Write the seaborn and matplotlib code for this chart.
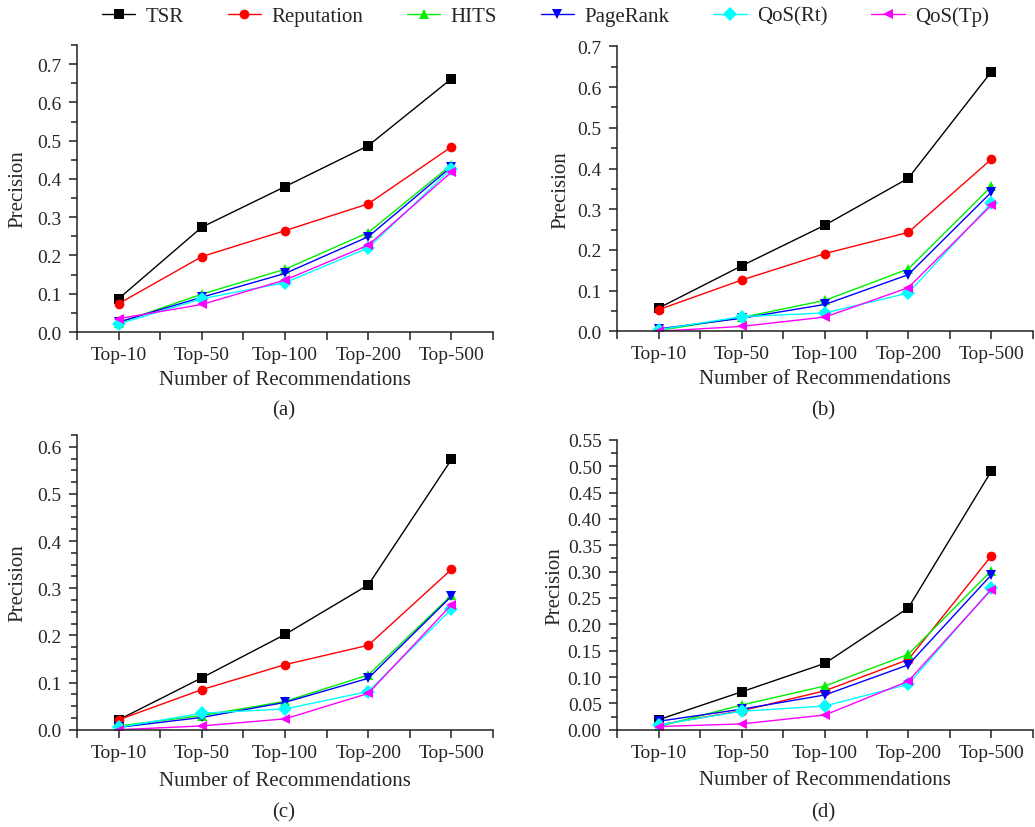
import numpy as np
import pandas as pd
import matplotlib
matplotlib.use("Agg")
import matplotlib.pyplot as plt
from matplotlib.ticker import MultipleLocator
import seaborn as sns

categories = ["Top-10", "Top-50", "Top-100", "Top-200", "Top-500"]
methods = ["TSR", "Reputation", "HITS", "PageRank", "QoS(Rt)", "QoS(Tp)"]

# panel (a)
a_tsr = [0.087, 0.274, 0.380, 0.487, 0.662]
a_rep = [0.074, 0.197, 0.265, 0.335, 0.484]
a_hits = [0.024, 0.099, 0.164, 0.260, 0.437]
a_pr = [0.026, 0.091, 0.153, 0.249, 0.432]
a_rt = [0.021, 0.087, 0.129, 0.220, 0.427]
a_tp = [0.035, 0.072, 0.136, 0.227, 0.418]

# panel (b)
b_tsr = [0.057, 0.161, 0.261, 0.376, 0.638]
b_rep = [0.053, 0.126, 0.191, 0.243, 0.423]
b_hits = [0.002, 0.034, 0.076, 0.153, 0.356]
b_pr = [0.006, 0.032, 0.066, 0.139, 0.342]
b_rt = [0.004, 0.036, 0.045, 0.094, 0.315]
b_tp = [0.000, 0.012, 0.035, 0.107, 0.310]

# panel (c)
c_tsr = [0.021, 0.110, 0.202, 0.307, 0.573]
c_rep = [0.021, 0.085, 0.138, 0.179, 0.340]
c_hits = [0.008, 0.030, 0.060, 0.116, 0.285]
c_pr = [0.005, 0.026, 0.058, 0.109, 0.283]
c_rt = [0.005, 0.035, 0.044, 0.081, 0.256]
c_tp = [0.000, 0.008, 0.023, 0.077, 0.265]

# panel (d)
d_tsr = [0.019, 0.072, 0.126, 0.231, 0.491]
d_rep = [0.009, 0.036, 0.074, 0.133, 0.330]
d_hits = [0.006, 0.047, 0.083, 0.143, 0.302]
d_pr = [0.016, 0.039, 0.066, 0.123, 0.294]
d_rt = [0.009, 0.035, 0.045, 0.086, 0.268]
d_tp = [0.006, 0.011, 0.028, 0.092, 0.266]

panels = [
    ("(a)", [a_tsr, a_rep, a_hits, a_pr, a_rt, a_tp]),
    ("(b)", [b_tsr, b_rep, b_hits, b_pr, b_rt, b_tp]),
    ("(c)", [c_tsr, c_rep, c_hits, c_pr, c_rt, c_tp]),
    ("(d)", [d_tsr, d_rep, d_hits, d_pr, d_rt, d_tp]),
]

colors = {"TSR": "#000000", "Reputation": "#ff0000", "HITS": "#00ee00",
          "PageRank": "#0000ff", "QoS(Rt)": "#00ffff", "QoS(Tp)": "#ff00ff"}
marks = {"TSR": "s", "Reputation": "o", "HITS": "^",
         "PageRank": "v", "QoS(Rt)": "D", "QoS(Tp)": "<"}

sns.set_style("ticks")
plt.rcParams["font.family"] = ["Liberation Serif", "DejaVu Serif"]

fig = plt.figure(figsize=(10.35, 8.28), dpi=100)

# axes boxes in figure fraction, plus y limits and tick steps
boxes = [
    [0.0744, 0.5978, 0.402, 0.3466],
    [0.5961, 0.5987, 0.402, 0.3440],
    [0.0744, 0.1175, 0.402, 0.3560],
    [0.5961, 0.1175, 0.402, 0.3500],
]
ytops = [0.75, 0.7, 0.625, 0.55]
ymajor = [0.1, 0.1, 0.1, 0.05]
yminor = [0.05, 0.05, 0.025, 0.025]
ylab_x = [-0.142, -0.135, -0.142, -0.150]
xlab_y = [-0.167, -0.167, -0.171, -0.173]
caps = [(284, 411), (823, 411), (284, 813), (823, 813)]

pos = np.arange(len(categories))
handles = None
for i, (cap, series) in enumerate(panels):
    rows = []
    for m, vals in zip(methods, series):
        for p, v in zip(pos, vals):
            rows.append({"rec": p, "precision": v, "method": m})
    df = pd.DataFrame(rows)

    ax = fig.add_axes(boxes[i])
    sns.lineplot(data=df, x="rec", y="precision", hue="method", style="method",
                 hue_order=methods, style_order=methods, palette=colors,
                 markers=marks, dashes=False, sort=False, ax=ax,
                 linewidth=1.0, markersize=7, markeredgewidth=0,
                 legend=(i == 0))
    if i == 0:
        h, l = ax.get_legend_handles_labels()
        handles = [(hh, ll) for hh, ll in zip(h, l) if ll in methods]
        ax.get_legend().remove()

    ax.set_xlim(-0.5, 4.5)
    ax.set_ylim(0, ytops[i])
    ax.set_xticks(pos)
    ax.set_xticklabels(categories)
    ax.xaxis.set_minor_locator(MultipleLocator(0.5))
    ax.yaxis.set_major_locator(MultipleLocator(ymajor[i]))
    ax.yaxis.set_minor_locator(MultipleLocator(yminor[i]))
    if ymajor[i] == 0.05:
        ax.yaxis.set_major_formatter(plt.FormatStrFormatter("%.2f"))
    else:
        ax.yaxis.set_major_formatter(plt.FormatStrFormatter("%.1f"))

    for s in ["top", "right"]:
        ax.spines[s].set_visible(False)
    for s in ["left", "bottom"]:
        ax.spines[s].set_linewidth(1.1)
        ax.spines[s].set_color("#222222")
    ax.tick_params(which="major", direction="out", length=6, width=1.1,
                   labelsize=14, pad=4, color="#222222")
    ax.tick_params(axis="y", which="minor", direction="out", length=4, width=1.1,
                   color="#222222")
    ax.tick_params(axis="x", which="minor", direction="out", length=6, width=1.1,
                   color="#222222")
    ax.tick_params(axis="y", which="major", pad=5)

    ax.set_xlabel("Number of Recommendations", fontsize=15)
    ax.set_ylabel("Precision", fontsize=15)
    ax.xaxis.set_label_coords(0.5, xlab_y[i])
    ax.xaxis.label.set_verticalalignment("center")
    ax.yaxis.set_label_coords(ylab_x[i], 0.5)
    ax.yaxis.label.set_verticalalignment("center")

    fig.text(caps[i][0] / 1035, 1 - caps[i][1] / 828, cap, fontsize=15,
             ha="center", va="center")

hs = [hh for hh, ll in handles]
ls = [ll for hh, ll in handles]
for hh in hs:
    hh.set_markeredgewidth(0)
    hh.set_markersize(7)
    hh.set_linewidth(1.0)
fig.legend(hs, ls, ncol=6, loc="center", bbox_to_anchor=(0.527, 1 - 17 / 828),
           frameon=False, fontsize=15, handlelength=1.6, handletextpad=0.5,
           columnspacing=2.1)

fig.savefig("out.png", dpi=100)
